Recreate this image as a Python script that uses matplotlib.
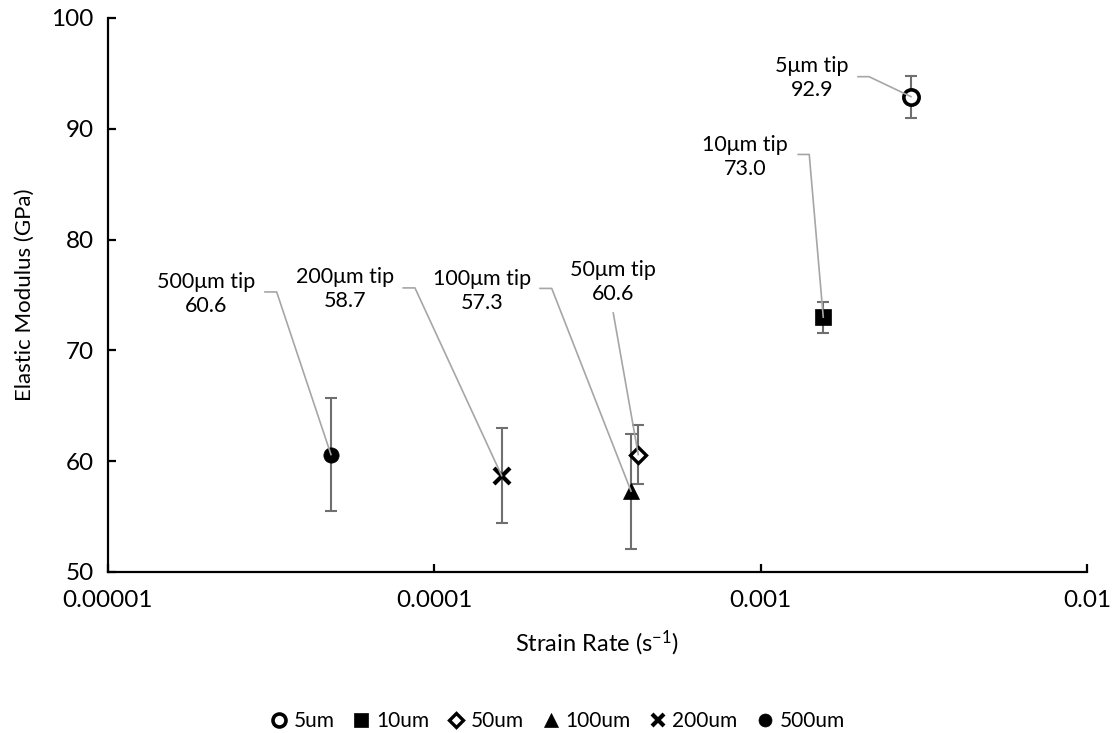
import matplotlib
matplotlib.use("Agg")
import matplotlib.pyplot as plt
from matplotlib.lines import Line2D
from matplotlib.transforms import IdentityTransform

# ---- data -------------------------------------------------------------
tips = ["5um", "10um", "50um", "100um", "200um", "500um"]
tip_labels = ["5\u03bcm tip", "10\u03bcm tip", "50\u03bcm tip",
              "100\u03bcm tip", "200\u03bcm tip", "500\u03bcm tip"]
strain_rate = [2.89e-3, 1.556e-3, 4.22e-4, 4.01e-4, 1.61e-4, 4.83e-5]
modulus = [92.9, 73.0, 60.6, 57.3, 58.7, 60.6]
modulus_err = [1.9, 1.4, 2.7, 5.2, 4.3, 5.1]
x_ticks = [1e-5, 1e-4, 1e-3, 1e-2]
x_ticklabels = ["0.00001", "0.0001", "0.001", "0.01"]
y_ticks = [50, 60, 70, 80, 90, 100]

# ---- styling ------------------------------------------------------------
plt.rcParams["font.family"] = ["Lato", "DejaVu Sans"]
plt.rcParams["mathtext.default"] = "regular"
FS_LABEL = 15.5
FS_TICK = 17.5
FS_TITLE = 17

marker_styles = {
    "5um":   dict(marker="o", ms=11, mfc="white", mec="black", mew=2.6),
    "10um":  dict(marker="s", ms=11.5, mfc="black", mec="black", mew=0.5),
    "50um":  dict(marker="D", ms=8.5, mfc="white", mec="black", mew=2.4),
    "100um": dict(marker="^", ms=11.5, mfc="black", mec="black", mew=0.5),
    "200um": dict(marker="x", ms=11, mfc="black", mec="black", mew=3.0),
    "500um": dict(marker="o", ms=11, mfc="black", mec="black", mew=0.5),
}

# label placement: text centre and leader knee, in pixels relative to point
label_offsets = {
    "5um":   ((-99, 18.5),  [(-53, 20.0), (-42, 20.0)]),
    "10um":  ((-78, 160.0), [(-25, 162.7), (-14, 162.7)]),
    "50um":  ((-25, 173.0), [(-25, 141.6)]),
    "100um": ((-149, 200.5), [(-91, 202.7), (-79.3, 202.7)]),
    "200um": ((-157, 187.0), [(-98.4, 187.7), (-86.7, 187.7)]),
    "500um": ((-125, 160.5), [(-66, 162.6), (-54.3, 162.6)]),
}

W, H, DPI = 1114, 733, 100
fig = plt.figure(figsize=(W / DPI, H / DPI), dpi=DPI)
ax = fig.add_axes([107.7 / W, 1 - 572 / H, (1087 - 107.7) / W, (572 - 18) / H])

ax.set_xscale("log")
ax.set_xlim(1e-5, 1e-2)
ax.set_ylim(50, 100)

# error bars behind the markers
ax.errorbar(strain_rate, modulus, yerr=modulus_err, fmt="none",
            ecolor="#6f6f6f", elinewidth=1.5, capsize=4.5, capthick=1.5,
            zorder=2)

handles = []
for name, x, y in zip(tips, strain_rate, modulus):
    (h,) = ax.plot([x], [y], linestyle="none", label=name, zorder=3,
                   **marker_styles[name])
    handles.append(h)

# data labels with leader lines
for name, lab, x, y in zip(tips, tip_labels, strain_rate, modulus):
    (tx, ty), knees = label_offsets[name]
    ax.annotate(f"{lab}\n{y:.1f}", xy=(x, y), xytext=(tx, ty),
                textcoords="offset pixels", ha="center", va="center",
                multialignment="center", fontsize=FS_LABEL, color="black",
                linespacing=1.25, zorder=5)
    px, py = ax.transData.transform((x, y))
    vx = [px + k[0] for k in knees] + [px]
    vy = [py + k[1] for k in knees] + [py]
    ax.add_line(Line2D(vx, vy, transform=IdentityTransform(),
                       color="#a6a6a6", lw=1.2, zorder=4, clip_on=False))

# axes styling
for s in ("top", "right"):
    ax.spines[s].set_visible(False)
for s in ("left", "bottom"):
    ax.spines[s].set_linewidth(1.6)
    ax.spines[s].set_color("black")

ax.set_xticks(x_ticks)
ax.set_xticklabels(x_ticklabels)
ax.xaxis.set_minor_locator(matplotlib.ticker.NullLocator())
ax.set_yticks(y_ticks)
ax.tick_params(axis="both", direction="in", length=6, width=1.6,
               labelsize=FS_TICK, colors="black")
ax.tick_params(axis="x", pad=13)
ax.tick_params(axis="y", pad=10)

ax.set_xlabel("Strain Rate (s$^{-1}$)", fontsize=FS_TITLE, labelpad=13)
ax.set_ylabel("Elastic Modulus (GPa)", fontsize=FS_LABEL + 0.5, labelpad=12)

fig.legend(handles=handles, labels=tips, loc="center",
           bbox_to_anchor=(0.5, 1 - 721 / H), ncol=6, frameon=False,
           fontsize=FS_LABEL - 0.5, handlelength=0.9, handletextpad=0.25,
           columnspacing=0.85, markerscale=0.85)

fig.savefig("out.png", dpi=DPI)
